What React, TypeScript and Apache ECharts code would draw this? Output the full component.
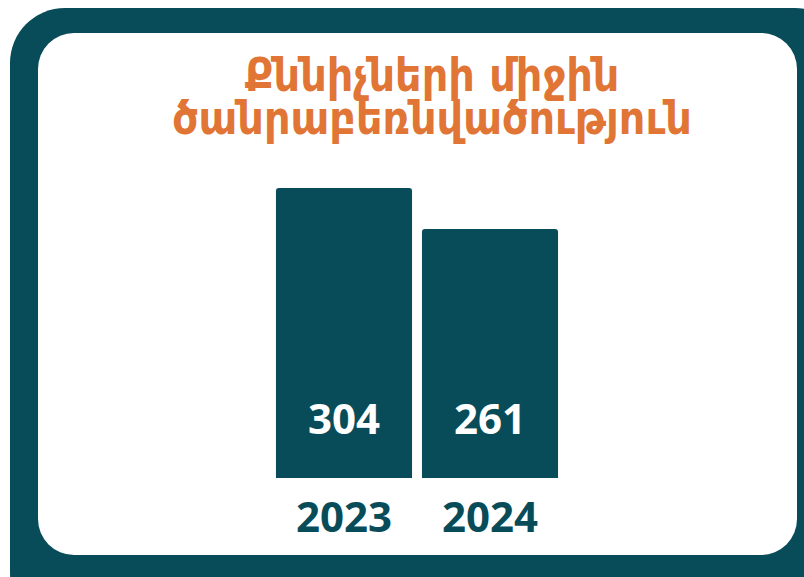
import React, { useEffect, useRef } from "react";
import * as echarts from "echarts";

const categories = ["2023", "2024"];
const values = [304, 261];
const titleLines = ["Քննիչների միջին", "ծանրաբեռնվածություն"];

const TEAL = "#094c59";
const ORANGE = "#e07535";

export default function App() {
  const ref = useRef<HTMLDivElement>(null);
  useEffect(() => {
    if (!ref.current) return;
    const chart = echarts.init(ref.current, null, { renderer: "svg" });
    chart.setOption({
      animation: false,
      backgroundColor: "#ffffff",
      title: {
        text: titleLines.join("\n"),
        left: 427,
        textAlign: "center",
        top: 48,
        textStyle: {
          color: ORANGE,
          fontFamily: "'DejaVu Sans Condensed', 'DejaVu Sans', sans-serif",
          fontWeight: "bold",
          fontSize: 46,
          lineHeight: 43,
        },
      },
      graphic: [
        {
          type: "rect",
          z: -10,
          shape: { x: 10, y: 8, width: 840, height: 620, r: 55 },
          style: { fill: TEAL },
        },
        {
          type: "rect",
          z: -9,
          shape: { x: 38, y: 33, width: 759, height: 522, r: 36 },
          style: { fill: "#ffffff" },
        },
      ],
      grid: { left: 271, width: 292, top: 188, bottom: 99, containLabel: false },
      xAxis: {
        type: "category",
        data: categories,
        axisLine: { show: false },
        axisTick: { show: false },
        axisLabel: {
          color: TEAL,
          fontFamily: "'Open Sans', sans-serif",
          fontWeight: "bold",
          fontSize: 42,
          lineHeight: 44,
          margin: 15,
        },
      },
      yAxis: {
        type: "value",
        min: 0,
        max: 304,
        show: false,
        splitLine: { show: false },
      },
      series: [
        {
          type: "bar",
          data: values,
          barCategoryGap: "6.8%",
          itemStyle: { color: TEAL, borderRadius: [3, 3, 0, 0] },
          label: {
            show: true,
            position: "insideBottom",
            distance: 39,
            color: "#ffffff",
            fontFamily: "'Open Sans', sans-serif",
            fontWeight: "bold",
            fontSize: 42,
            lineHeight: 44,
          },
        },
      ],
    });
    return () => chart.dispose();
  }, []);
  return (
    <div
      ref={ref}
      style={{ position: "fixed", left: 0, top: 0, width: 804, height: 577 }}
    />
  );
}
